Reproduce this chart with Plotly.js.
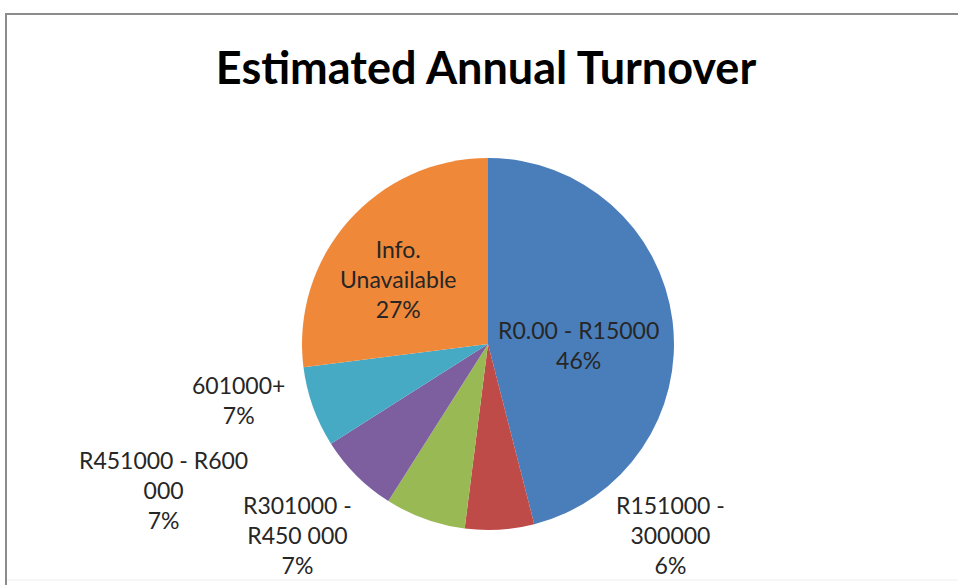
<!DOCTYPE html>
<html>
<head>
<meta charset="utf-8">
<script src="https://cdn.plot.ly/plotly-3.0.1.min.js"></script>
<style>
html,body{margin:0;padding:0;background:#fff;}
#chart{width:958px;height:585px;}
</style>
</head>
<body>
<div id="chart"></div>
<script>
// Data
const categories = ["R0.00 - R15000", "R151000 - 300000", "R301000 - R450 000", "R451000 - R600 000", "601000+", "Info. Unavailable"];
const displayLabels = ["R0.00 - R15000", "R151000 -<br>300000", "R301000 -<br>R450 000", "R451000 - R600<br>000", "601000+", "Info.<br>Unavailable"];
const percents = [46, 6, 7, 7, 7, 27];
const sliceColors = ["#4a7ebb", "#be4b48", "#98b954", "#7d5fa0", "#46aac4", "#f0883a"];

// Label anchor positions in pixels (layout only)
const labelPos = [[578, 345], [670, 535], [297, 535], [163, 490], [238, 400], [398, 279]];

const W = 958, H = 585;
const pieLeft = 302, pieRight = 674, pieTop = 158, pieBottom = 530;

const trace = {
  type: "pie",
  labels: categories,
  values: percents,
  sort: false,
  direction: "clockwise",
  rotation: 0,
  textinfo: "none",
  hoverinfo: "label+percent",
  marker: {colors: sliceColors, line: {width: 0}},
  domain: {x: [pieLeft / W, pieRight / W], y: [1 - pieBottom / H, 1 - pieTop / H]},
  showlegend: false
};

const annotations = displayLabels.map((lab, i) => ({
  text: lab + "<br>" + percents[i] + "%",
  xref: "paper", yref: "paper",
  x: labelPos[i][0] / W, y: 1 - labelPos[i][1] / H,
  xanchor: "center", yanchor: "middle",
  showarrow: false,
  align: "center",
  font: {family: "Lato, 'Open Sans', sans-serif", size: 23, color: "#262626"}
}));

const layout = {
  width: W, height: H,
  margin: {l: 0, r: 0, t: 0, b: 0},
  paper_bgcolor: "#ffffff",
  title: {
    text: "<b>Estimated Annual Turnover</b>",
    x: 486 / W, y: 1 - 68 / H, xanchor: "center", yanchor: "middle",
    xref: "paper", yref: "paper",
    font: {family: "Lato, 'Open Sans', sans-serif", size: 45, color: "#000000"}
  },
  annotations: annotations,
  shapes: [
    {type: "line", xref: "paper", yref: "paper", x0: 5 / W, x1: 1, y0: 1 - 14 / H, y1: 1 - 14 / H, line: {color: "#8c8c8c", width: 2}},
    {type: "line", xref: "paper", yref: "paper", x0: 6 / W, x1: 6 / W, y0: 0, y1: 1 - 14 / H, line: {color: "#8c8c8c", width: 2}},
    {type: "line", xref: "paper", yref: "paper", x0: 7 / W, x1: 1, y0: 1 - 580 / H, y1: 1 - 580 / H, line: {color: "#eeeeee", width: 1}}
  ]
};

Plotly.newPlot("chart", [trace], layout, {displayModeBar: false, staticPlot: true});
</script>
</body>
</html>
